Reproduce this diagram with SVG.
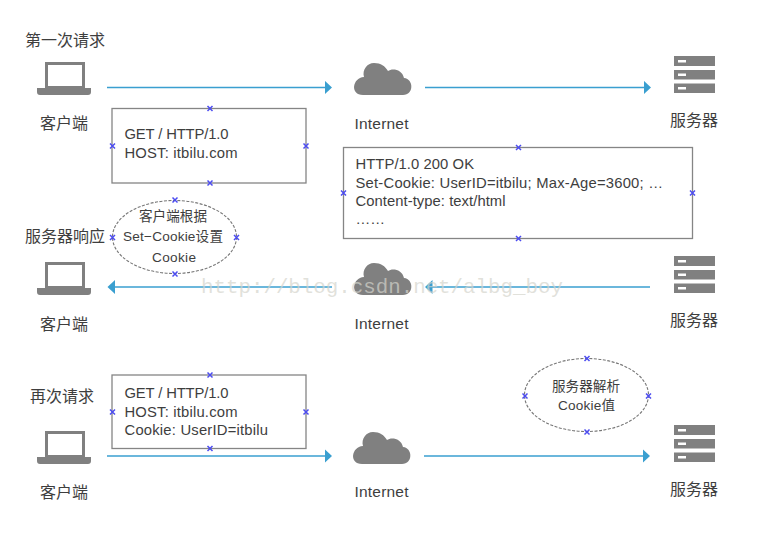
<svg xmlns="http://www.w3.org/2000/svg" width="762" height="536" viewBox="0 0 762 536">
<style>
text{font-family:"Liberation Sans","Noto Sans CJK SC",sans-serif;fill:#3e3e3e}
.lbl{font-size:15.5px}
.cjk{font-family:"Noto Sans CJK SC","Liberation Sans",sans-serif;font-size:16px}
.body{font-size:14.8px}
.small{font-size:13.6px;text-anchor:middle}
.mid{text-anchor:middle}
.box{fill:#fff;stroke:#858585;stroke-width:1.3}
.oval{fill:#fff;stroke:#777;stroke-width:1.1;stroke-dasharray:3 1.5}
.link{fill:none;stroke:#3a9fd0;stroke-width:1.6}
.h{fill:none;stroke:#4c4cf0;stroke-width:1.5}
.ic{fill:#808080}
text.mark{font-family:"Liberation Mono","DejaVu Sans Mono",monospace;font-size:20.8px;fill:#d4d4cc;fill-opacity:.7}
</style>
<defs>
<marker id="tip" markerUnits="userSpaceOnUse" markerWidth="8" markerHeight="14" refX="0.5" refY="7" orient="auto"><path d="M0 0L7.5 7L0 14Z" fill="#3a9fd0"/></marker>
<path id="handle" class="h" d="M-2.500-2.500L2.500 2.500M2.500-2.500L-2.500 2.500"/>
<g id="laptop"><path class="ic" fill-rule="evenodd" d="M45 62H85V88H91V92Q91 95 88 95H40Q37 95 37 92V88H45ZM48 65V86H82V65Z"/></g>
<path id="cloud" class="ic" d="M363 95C350 95 352 78 364 77C362 70 367 63 374 63C381 63 385 66 388 71C392 68 402 69 404 78C414 79 414 95 403 95Z"/>
<g id="server" class="ic"><path fill-rule="evenodd" d="M674 56H715V66H674ZM678 60V62.500H686V60ZM674 70H715V79.500H674ZM678 73.500V76H686V73.500ZM674 83.500H715V93H674ZM678 87V89.500H686V87Z"/></g>
</defs>
<rect width="762" height="536" fill="#fff"/>

<g id="connectors">
<path class="link" d="M107 87.500H325" marker-end="url(#tip)"/>
<path class="link" d="M425 87.500H644" marker-end="url(#tip)"/>
<path class="link" d="M650 287H432" marker-end="url(#tip)"/>
<path class="link" d="M332 287H114.500" marker-end="url(#tip)"/>
<path class="link" d="M107 456H325" marker-end="url(#tip)"/>
<path class="link" d="M424 456H643" marker-end="url(#tip)"/>
</g>

<g id="client-1"><use href="#laptop"/><text class="cjk" x="25" y="46">第一次请求</text><text class="cjk mid" x="64" y="129">客户端</text></g>
<g id="internet-1"><use href="#cloud"/><text class="lbl mid" x="381.500" y="129" textLength="54">Internet</text></g>
<g id="server-1"><use href="#server"/><text class="cjk mid" x="694" y="126">服务器</text></g>

<g id="request-1"><rect class="box" x="112" y="108.500" width="194" height="74.500"/>
<text class="body" x="124.500" y="139" textLength="104">GET / HTTP/1.0</text><text class="body" x="124.500" y="158" textLength="113">HOST: itbilu.com</text>
<use href="#handle" x="210" y="108.500"/><use href="#handle" x="210" y="183"/><use href="#handle" x="112.500" y="146"/><use href="#handle" x="306" y="146"/></g>

<g id="response"><rect class="box" x="343.500" y="147.500" width="349" height="91"/>
<text class="body" x="355.500" y="169" textLength="118.500">HTTP/1.0 200 OK</text><text class="body" x="355.500" y="188" textLength="307.500">Set-Cookie: UserID=itbilu; Max-Age=3600; …</text><text class="body" x="355.500" y="205.500" textLength="150">Content-type: text/html</text><text class="body" x="355.500" y="224">……</text>
<use href="#handle" x="518.500" y="147.500"/><use href="#handle" x="518.500" y="238.500"/><use href="#handle" x="343.500" y="193"/><use href="#handle" x="692.500" y="193"/></g>

<g id="client-2"><use href="#laptop" y="200"/><text class="cjk" x="25" y="242">服务器响应</text><text class="cjk mid" x="64" y="330">客户端</text></g>
<g id="set-cookie"><ellipse class="oval" cx="174.500" cy="237" rx="62" ry="36.500"/>
<text class="small cjk" x="173" y="221">客户端根据</text><text class="small" x="173" y="241" textLength="100">Set−Cookie设置</text><text class="small" x="174" y="262" textLength="44">Cookie</text>
<use href="#handle" x="175" y="200"/><use href="#handle" x="175" y="274"/><use href="#handle" x="112.500" y="237.500"/><use href="#handle" x="236.500" y="237.500"/></g>
<g id="internet-2"><use href="#cloud" y="200"/><text class="lbl mid" x="381.500" y="329" textLength="54">Internet</text></g>
<g id="server-2"><use href="#server" y="200"/><text class="cjk mid" x="694" y="326">服务器</text></g>

<g id="client-3"><use href="#laptop" y="369"/><text class="cjk" x="30" y="402">再次请求</text><text class="cjk mid" x="64" y="498">客户端</text></g>
<g id="request-2"><rect class="box" x="112" y="375" width="194" height="73.500"/>
<text class="body" x="124.500" y="398" textLength="104">GET / HTTP/1.0</text><text class="body" x="124.500" y="417" textLength="113">HOST: itbilu.com</text><text class="body" x="124.500" y="435" textLength="143.500">Cookie: UserID=itbilu</text>
<use href="#handle" x="210" y="375"/><use href="#handle" x="210" y="448.500"/><use href="#handle" x="112.500" y="412"/><use href="#handle" x="306" y="412"/></g>
<g id="internet-3"><use href="#cloud" x="-1" y="369"/><text class="lbl mid" x="381.500" y="497" textLength="54">Internet</text></g>
<g id="server-3"><use href="#server" y="369"/><text class="cjk mid" x="694" y="495">服务器</text></g>
<g id="parse-cookie"><ellipse class="oval" cx="586.500" cy="395" rx="62" ry="36.500"/>
<text class="small cjk" x="586" y="391">服务器解析</text><text class="small" x="586.500" y="410" textLength="57">Cookie值</text>
<use href="#handle" x="587" y="358.500"/><use href="#handle" x="587" y="432"/><use href="#handle" x="525" y="396"/><use href="#handle" x="648.500" y="396"/></g>

<text class="mark" x="201" y="293">http://blog.csdn.net/albg_boy</text>
</svg>
